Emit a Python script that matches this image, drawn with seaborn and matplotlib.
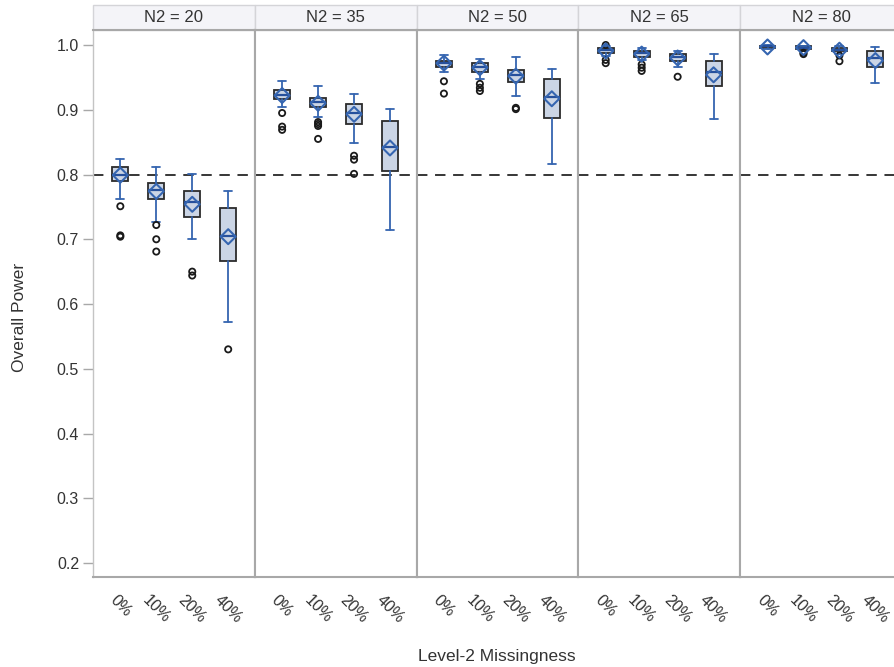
import matplotlib
matplotlib.use("Agg")
import matplotlib.pyplot as plt
from matplotlib.patches import Rectangle
import numpy as np
import pandas as pd
import seaborn as sns

# Design factors
n2_levels = [20, 35, 50, 65, 80]
missing_levels = ["0%", "10%", "20%", "40%"]

# Box-plot summaries of overall power, one row per N2, one column per missingness level
whisker_low = [
    [0.762, 0.727, 0.700, 0.573],
    [0.904, 0.889, 0.849, 0.715],
    [0.958, 0.948, 0.921, 0.816],
    [0.983, 0.977, 0.966, 0.885],
    [0.994, 0.991, 0.986, 0.941],
]
q1 = [
    [0.790, 0.762, 0.735, 0.666],
    [0.916, 0.904, 0.878, 0.806],
    [0.966, 0.958, 0.943, 0.887],
    [0.987, 0.982, 0.975, 0.936],
    [0.996, 0.994, 0.990, 0.966],
]
median = [
    [0.800, 0.776, 0.757, 0.705],
    [0.923, 0.912, 0.895, 0.842],
    [0.973, 0.966, 0.954, 0.920],
    [0.992, 0.987, 0.981, 0.958],
    [0.998, 0.996, 0.993, 0.980],
]
q3 = [
    [0.811, 0.787, 0.775, 0.748],
    [0.930, 0.918, 0.909, 0.882],
    [0.976, 0.972, 0.962, 0.947],
    [0.995, 0.990, 0.986, 0.976],
    [0.999, 0.998, 0.995, 0.990],
]
whisker_high = [
    [0.824, 0.811, 0.801, 0.775],
    [0.945, 0.936, 0.925, 0.901],
    [0.985, 0.978, 0.981, 0.963],
    [0.999, 0.996, 0.991, 0.986],
    [1.000, 0.999, 0.999, 0.997],
]
mean_power = [
    [0.799, 0.774, 0.754, 0.704],
    [0.922, 0.910, 0.893, 0.841],
    [0.972, 0.965, 0.952, 0.917],
    [0.991, 0.986, 0.980, 0.954],
    [0.997, 0.996, 0.992, 0.976],
]
outliers = [
    [[0.751, 0.706, 0.704], [0.722, 0.700, 0.681], [0.650, 0.644], [0.530]],
    [[0.895, 0.874, 0.869], [0.881, 0.878, 0.875, 0.855], [0.829, 0.823, 0.801], []],
    [[0.944, 0.925], [0.940, 0.934, 0.929], [0.903, 0.901], []],
    [[1.000, 0.977, 0.972], [0.970, 0.965, 0.960], [0.951], []],
    [[], [0.988, 0.986], [0.984, 0.975], []],
]
target_power = 0.8

# Long-form tables
rows, out_rows = [], []
for i, n2 in enumerate(n2_levels):
    for j, lvl in enumerate(missing_levels):
        rows.append(dict(N2=n2, missing=lvl, pos=j, lo=whisker_low[i][j], q1=q1[i][j],
                         med=median[i][j], q3=q3[i][j], hi=whisker_high[i][j],
                         mean=mean_power[i][j]))
        for v in outliers[i][j]:
            out_rows.append(dict(N2=n2, pos=j, power=v))
summary = pd.DataFrame(rows)
extremes = pd.DataFrame(out_rows)

sns.set_style("white")
plt.rcParams["font.family"] = ["Liberation Sans", "DejaVu Sans"]
plt.rcParams["lines.scale_dashes"] = False

BLUE = "#3565b0"
MEDIAN_BLUE = "#26509c"
FILL = "#cbd5e5"
EDGE = "#2b2b2b"
FRAME = "#a8a8a8"
TEXT = "#333333"

g = sns.FacetGrid(summary, col="N2", col_order=n2_levels, sharey=True,
                  height=5.47, aspect=0.296, despine=False)


def draw_boxes(data, **kws):
    ax = plt.gca()
    stats = [dict(whislo=r.lo, q1=r.q1, med=r.med, q3=r.q3, whishi=r.hi, fliers=[])
             for r in data.itertuples()]
    ax.bxp(stats, positions=data["pos"].tolist(), widths=0.44, capwidths=0.22,
           patch_artist=True, showfliers=False, manage_ticks=False,
           boxprops=dict(facecolor=FILL, edgecolor=EDGE, linewidth=1.3),
           whiskerprops=dict(color=BLUE, linewidth=1.3),
           capprops=dict(color=BLUE, linewidth=1.3),
           medianprops=dict(color=MEDIAN_BLUE, linewidth=1.6))


g.map_dataframe(draw_boxes)

for ax, n2 in zip(g.axes.flat, n2_levels):
    ax.axhline(target_power, color="black", linewidth=1.1, dashes=(7.5, 5.5), zorder=1)
    sub_out = extremes[extremes["N2"] == n2]
    sns.scatterplot(data=sub_out, x="pos", y="power", ax=ax, marker="o", s=20,
                    color=EDGE, facecolors="none", edgecolor="#1a1a1a",
                    linewidth=1.3, zorder=4, legend=False)
    sub_mean = summary[summary["N2"] == n2]
    sns.scatterplot(data=sub_mean, x="pos", y="mean", ax=ax, marker="D", s=58,
                    color=BLUE, facecolors="none", edgecolor=BLUE,
                    linewidth=1.5, zorder=5, legend=False)

    ax.set_xlim(-0.76, 3.74)
    ax.set_ylim(0.1784, 1.0232)
    ax.set_xticks(range(len(missing_levels)))
    ax.set_xticklabels(missing_levels, rotation=-45, ha="center", va="top")
    ax.tick_params(axis="x", length=7, width=1, color=FRAME, labelsize=11.5,
                   labelcolor=TEXT, pad=4)
    ax.set_xlabel("")
    ax.set_ylabel("")
    ax.set_title("")
    for s in ax.spines.values():
        s.set_color(FRAME)
        s.set_linewidth(1.5)

    # Panel header strip
    hdr = 25 / 547
    ax.add_patch(Rectangle((0, 1), 1, hdr, transform=ax.transAxes, clip_on=False,
                           facecolor="#f4f4f8", edgecolor="#d4d4d8", linewidth=1.0))
    ax.text(0.5, 1 + hdr / 2, f"N2 = {n2}", transform=ax.transAxes, ha="center",
            va="center", fontsize=12, color=TEXT)

first = g.axes.flat[0]
first.set_yticks([0.2, 0.3, 0.4, 0.5, 0.6, 0.7, 0.8, 0.9, 1.0])
first.set_yticklabels([f"{t:.1f}" for t in first.get_yticks()])
first.tick_params(axis="y", left=True, length=7, width=1, color=FRAME,
                  labelsize=11.5, labelcolor=TEXT, pad=3)
first.spines["left"].set_color("#c4c4c4")
first.spines["left"].set_linewidth(1.0)
for ax in g.axes.flat[1:]:
    ax.tick_params(axis="y", left=False, labelleft=False)

first.set_ylabel("Overall Power", fontsize=12.5, color=TEXT)
first.yaxis.set_label_coords(-0.41, 0.475)

fig = g.figure
fig.set_size_inches(8.94, 6.67)
fig.text(497 / 894, 1 - 656 / 667, "Level-2 Missingness", ha="center", va="center",
         fontsize=12.5, color=TEXT)
fig.subplots_adjust(left=93 / 894, right=902 / 894, top=1 - 30 / 667,
                    bottom=1 - 577 / 667, wspace=0)
fig.savefig("out.png", dpi=100, facecolor="white")
